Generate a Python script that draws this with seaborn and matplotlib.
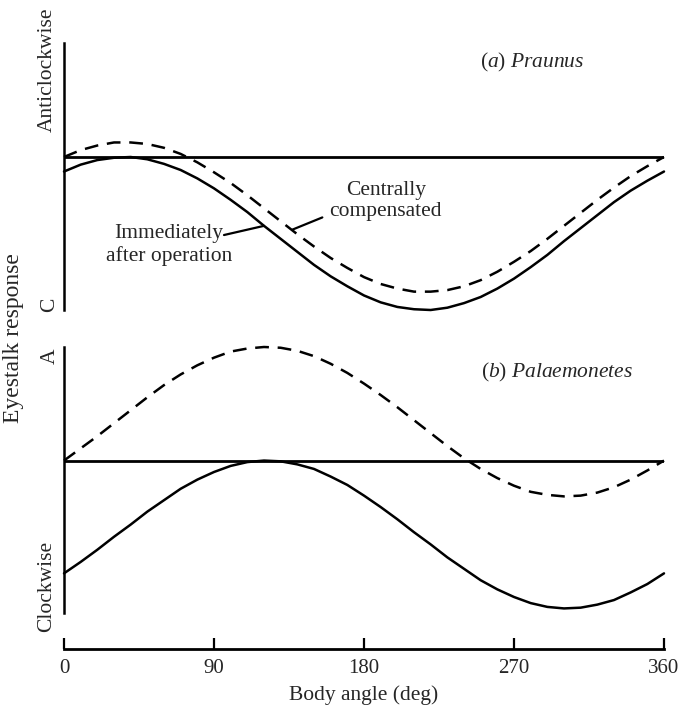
import numpy as np
import pandas as pd
import matplotlib
matplotlib.use("Agg")
import matplotlib.pyplot as plt
import seaborn as sns

# Body angle (deg), sampled every 10 degrees
angle = list(range(0, 361, 10))

# (a) Praunus
praunus_immediate = [-0.19, -0.10, -0.04, -0.01, 0.00, -0.03, -0.09, -0.17, -0.28, -0.41,
                     -0.56, -0.72, -0.90, -1.07, -1.24, -1.41, -1.56, -1.69, -1.81, -1.90,
                     -1.96, -1.99, -2.00, -1.97, -1.91, -1.83, -1.72, -1.59, -1.44, -1.28,
                     -1.10, -0.93, -0.76, -0.59, -0.44, -0.31, -0.19]
praunus_compensated = [0.00, 0.09, 0.15, 0.19, 0.19, 0.17, 0.12, 0.04, -0.07, -0.20,
                       -0.34, -0.50, -0.67, -0.84, -1.01, -1.17, -1.32, -1.45, -1.57, -1.66,
                       -1.72, -1.76, -1.76, -1.74, -1.69, -1.61, -1.50, -1.37, -1.23, -1.07,
                       -0.90, -0.73, -0.56, -0.40, -0.25, -0.12, 0.00]

# (b) Palaemonetes
palaemonetes_immediate = [-1.48, -1.33, -1.17, -1.00, -0.84, -0.67, -0.52, -0.37, -0.25, -0.15,
                          -0.07, -0.02, 0.00, -0.01, -0.05, -0.11, -0.21, -0.32, -0.46, -0.61,
                          -0.77, -0.94, -1.10, -1.27, -1.42, -1.57, -1.69, -1.79, -1.87, -1.92,
                          -1.94, -1.93, -1.89, -1.83, -1.73, -1.62, -1.48]
palaemonetes_compensated = [0.00, 0.16, 0.32, 0.49, 0.66, 0.83, 0.99, 1.13, 1.25, 1.35,
                            1.43, 1.47, 1.49, 1.48, 1.44, 1.37, 1.27, 1.15, 1.01, 0.86,
                            0.70, 0.53, 0.36, 0.19, 0.03, -0.11, -0.23, -0.33, -0.41, -0.45,
                            -0.47, -0.46, -0.42, -0.35, -0.25, -0.13, 0.00]

x_ticks = [0, 90, 180, 270, 360]
y_range = (-2.0, 1.49)

sns.set_theme(style="white")
plt.rcParams["font.family"] = ["Liberation Serif", "DejaVu Serif"]
plt.rcParams["mathtext.fontset"] = "custom"
plt.rcParams["mathtext.rm"] = "Liberation Serif"
plt.rcParams["mathtext.it"] = "Liberation Serif:italic"

W, H = 682, 710
fig = plt.figure(figsize=(W / 100, H / 100), dpi=100)


def px_axes(left, top, right, bottom):
    return fig.add_axes([left / W, 1 - bottom / H, (right - left) / W, (bottom - top) / H])


ax_a = px_axes(64, 43, 664, 310)
ax_b = px_axes(64, 347, 664, 613)

dash = (0, (5.5, 3.5))
panels = [
    (ax_a, praunus_immediate, praunus_compensated),
    (ax_b, palaemonetes_immediate, palaemonetes_compensated),
]
for ax, solid, dashed in panels:
    df = pd.DataFrame({"angle": angle, "immediate": solid, "compensated": dashed})
    ax.axhline(0, color="black", lw=2.0, zorder=1)
    sns.lineplot(data=df, x="angle", y="immediate", ax=ax, color="black", lw=1.8,
                 clip_on=False, zorder=3)
    sns.lineplot(data=df, x="angle", y="compensated", ax=ax, color="black", lw=1.8,
                 linestyle=dash, clip_on=False, zorder=3)
    ax.set_xlim(0, 360)
    ax.set_ylim(*y_range)
    ax.set_xlabel("")
    ax.set_ylabel("")
    ax.set_yticks([])
    for side in ("top", "right", "bottom"):
        ax.spines[side].set_visible(False)
    ax.spines["left"].set_color("black")
    ax.spines["left"].set_linewidth(1.8)
    ax.set_facecolor("none")

ax_a.set_xticks([])

# Shared angle axis below the lower panel
ax_b.spines["bottom"].set_visible(True)
ax_b.spines["bottom"].set_color("black")
ax_b.spines["bottom"].set_linewidth(2.0)
ax_b.spines["bottom"].set_position(("outward", 26))
ax_b.set_xticks(x_ticks)
ax_b.set_xticklabels([str(t) for t in x_ticks])
ax_b.tick_params(axis="x", direction="in", length=8, width=1.6, color="black",
                 labelsize=15, pad=7, bottom=True)
ax_b.set_xlabel("Body angle (deg)", fontsize=15.5, labelpad=5)

# Panel titles
ax_a.text(281, 1.24, r"$(a)\ Praunus$", ha="center", va="center", fontsize=15.5)
ax_b.text(296, 1.16, r"$(b)\ Palaemonetes$", ha="center", va="center", fontsize=15.5)

# Curve labels with leader lines
ax_a.text(63, -1.15, "Immediately\nafter operation", ha="center", va="center",
          fontsize=15.5, linespacing=1.15)
ax_a.annotate("", xy=(120, -0.90), xytext=(96, -1.02),
              arrowprops=dict(arrowstyle="-", lw=1.6, color="black", shrinkA=0, shrinkB=0))
ax_a.text(193, -0.58, "Centrally\ncompensated", ha="center", va="center",
          fontsize=15.5, linespacing=1.15)
ax_a.annotate("", xy=(137, -0.95), xytext=(155, -0.79),
              arrowprops=dict(arrowstyle="-", lw=1.6, color="black", shrinkA=0, shrinkB=0))

# Direction labels along the left edge
fs = 15.5
fig.text(47 / W, 1 - 70 / H, "Anticlockwise", rotation=90, ha="center", va="center", fontsize=fs)
fig.text(50 / W, 1 - 305 / H, "C", rotation=90, ha="center", va="center", fontsize=fs)
fig.text(50 / W, 1 - 356 / H, "A", rotation=90, ha="center", va="center", fontsize=fs)
fig.text(47 / W, 1 - 586 / H, "Clockwise", rotation=90, ha="center", va="center", fontsize=fs)
fig.text(14 / W, 1 - 338 / H, "Eyestalk response", rotation=90, ha="center", va="center",
         fontsize=17)

fig.savefig("out.png", dpi=100, facecolor="white")
